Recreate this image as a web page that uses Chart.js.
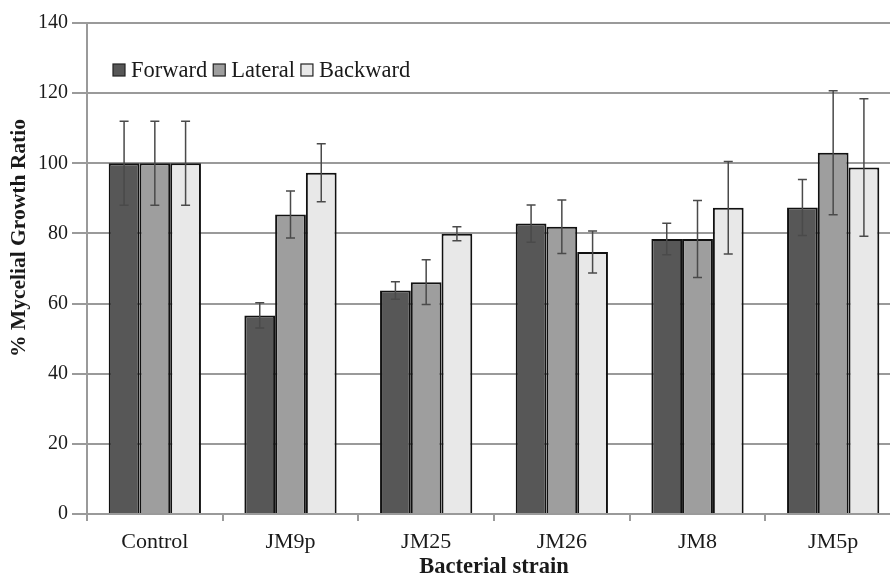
<!DOCTYPE html>
<html>
<head>
<meta charset="utf-8">
<script src="https://cdn.jsdelivr.net/npm/chart.js@4.4.1/dist/chart.umd.min.js"></script>
<style>
  html, body { margin: 0; padding: 0; background: #fff; overflow: hidden; }
  #wrap { width: 904px; height: 578px; }
</style>
</head>
<body>
<div id="wrap"><canvas id="growthChart" width="904" height="578"></canvas></div>
<script>
// Data
const strains = ['Control', 'JM9p', 'JM25', 'JM26', 'JM8', 'JM5p'];
const forward = [100, 56.6, 63.7, 82.8, 78.4, 87.4];
const lateral = [100, 85.4, 66.1, 81.9, 78.4, 103.0];
const backward = [100, 97.3, 79.9, 74.7, 87.3, 98.8];
const forwardErr = [12, 3.6, 2.5, 5.3, 4.5, 8.0];
const lateralErr = [12, 6.7, 6.4, 7.6, 11.0, 17.7];
const backwardErr = [12, 8.3, 2.0, 6.0, 13.2, 19.6];
const yTicks = [0, 20, 40, 60, 80, 100, 120, 140];
const yTitle = '% Mycelial Growth Ratio';

const serif = '"Liberation Serif", "Times New Roman", serif';

// error bars drawn on top of the bars
const errorBars = {
    id: 'errorBars',
    afterDatasetsDraw(chart) {
        const ctx = chart.ctx;
        const y = chart.scales.y;
        ctx.save();
        ctx.strokeStyle = '#4a4a4a';
        ctx.lineWidth = 1.5;
        chart.data.datasets.forEach((ds, i) => {
            const meta = chart.getDatasetMeta(i);
            meta.data.forEach((bar, j) => {
                const v = ds.data[j], e = ds.errors[j];
                const yTop = y.getPixelForValue(v + e);
                const yBot = y.getPixelForValue(v - e);
                const x = bar.x;
                ctx.beginPath();
                ctx.moveTo(x, yTop); ctx.lineTo(x, yBot);
                ctx.moveTo(x - 4.5, yTop); ctx.lineTo(x + 4.5, yTop);
                ctx.moveTo(x - 4.5, yBot); ctx.lineTo(x + 4.5, yBot);
                ctx.stroke();
            });
        });
        ctx.restore();
    }
};

// legend sits inside the plot area, top left; y title drawn a bit above centre like the original
const insideLegend = {
    id: 'insideLegend',
    afterDraw(chart) {
        const ctx = chart.ctx;
        let x = 113;
        const yMid = 70;
        ctx.save();
        ctx.font = '22.5px ' + serif;
        ctx.textBaseline = 'middle';
        chart.data.datasets.forEach(ds => {
            ctx.fillStyle = ds.backgroundColor;
            ctx.fillRect(x, yMid - 6, 12, 12);
            ctx.strokeStyle = '#222';
            ctx.lineWidth = 1.2;
            ctx.strokeRect(x, yMid - 6, 12, 12);
            ctx.fillStyle = '#1a1a1a';
            ctx.fillText(ds.label, x + 18, yMid + 1);
            x += 18 + ctx.measureText(ds.label).width + 6;
        });

        ctx.translate(19, 238);
        ctx.rotate(-Math.PI / 2);
        ctx.font = 'bold 21.5px ' + serif;
        ctx.textAlign = 'center';
        ctx.fillText(yTitle, 0, 0);
        ctx.restore();
    }
};

new Chart(document.getElementById('growthChart'), {
    type: 'bar',
    data: {
        labels: strains,
        datasets: [{
            label: 'Forward',
            data: forward,
            errors: forwardErr,
            backgroundColor: '#575757',
            borderColor: '#111',
            borderWidth: 2
        }, {
            label: 'Lateral',
            data: lateral,
            errors: lateralErr,
            backgroundColor: '#9e9e9e',
            borderColor: '#111',
            borderWidth: 2
        }, {
            label: 'Backward',
            data: backward,
            errors: backwardErr,
            backgroundColor: '#e8e8e8',
            borderColor: '#111',
            borderWidth: 2
        }]
    },
    options: {
        responsive: false,
        animation: false,
        layout: { padding: { top: 23, right: 3, left: 0, bottom: 0 } },
        datasets: {
            bar: { categoryPercentage: 0.68, barPercentage: 1.0 }
        },
        plugins: {
            legend: { display: false },
            tooltip: { enabled: false }
        },
        scales: {
            y: {
                min: 0,
                max: 140,
                afterBuildTicks(scale) {
                    scale.ticks = yTicks.map(v => ({ value: v }));
                },
                afterFit(scale) { scale.width = 87; },
                grid: {
                    color: '#9a9a9a',
                    lineWidth: 2,
                    tickLength: 15
                },
                border: { color: '#9a9a9a', width: 2 },
                ticks: {
                    color: '#1a1a1a',
                    padding: 4,
                    font: { family: serif, size: 20 }
                }
            },
            x: {
                afterFit(scale) { scale.height = 64; },
                grid: {
                    offset: true,
                    drawOnChartArea: false,
                    color: '#9a9a9a',
                    lineWidth: 2,
                    tickLength: 7
                },
                border: { color: '#9a9a9a', width: 2 },
                ticks: {
                    color: '#1a1a1a',
                    padding: 8,
                    font: { family: serif, size: 22 }
                },
                title: {
                    display: true,
                    text: 'Bacterial strain',
                    color: '#1a1a1a',
                    padding: { top: 0, bottom: -3 },
                    font: { family: serif, size: 22.5, weight: 'bold' }
                }
            }
        }
    },
    plugins: [errorBars, insideLegend]
});
</script>
</body>
</html>
